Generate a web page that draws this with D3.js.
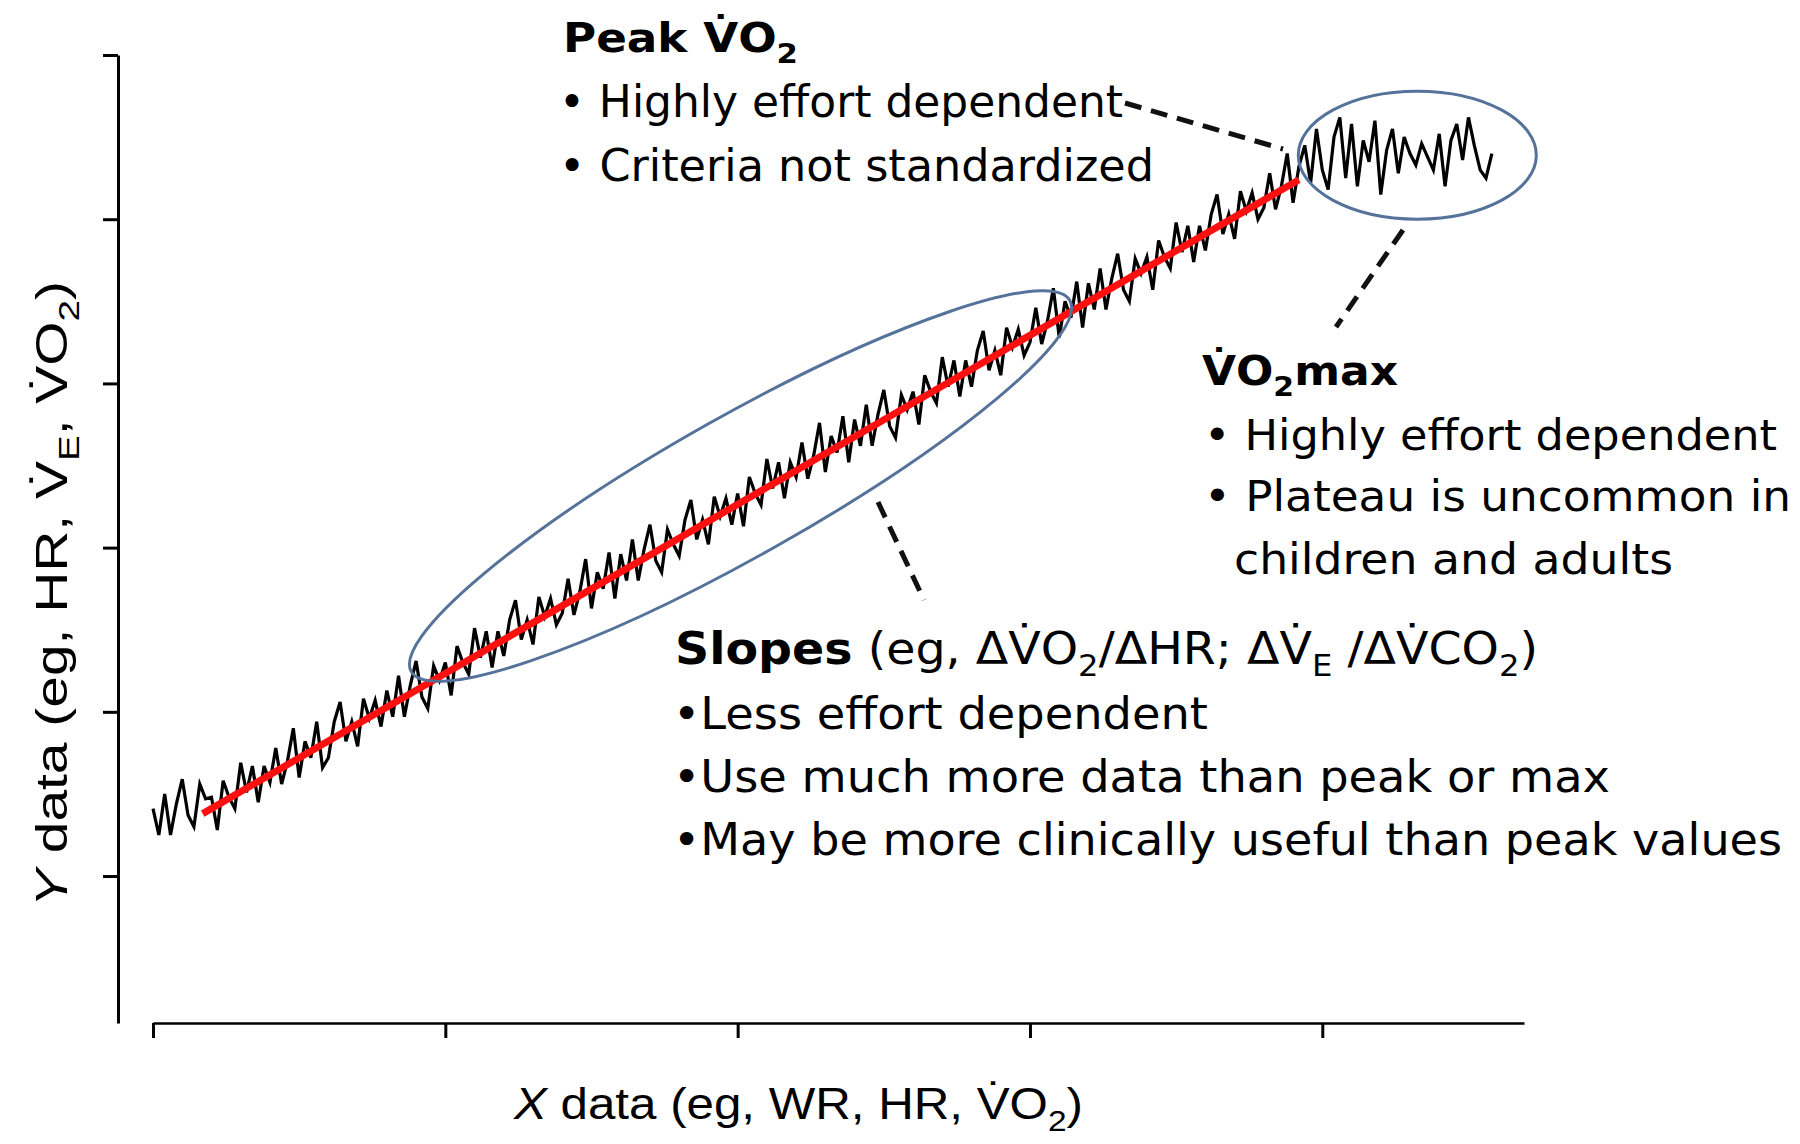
<!DOCTYPE html>
<html><head><meta charset="utf-8">
<script src="https://cdn.jsdelivr.net/npm/d3@7"></script>
<style>body{margin:0;background:#fff;} svg{display:block}</style>
</head><body>
<svg id="chart" width="1800" height="1144"></svg>
<script>
// ---------------- data ----------------
const xTicks = [0, 1, 2, 3, 4];
const yTicks = [1, 2, 3, 4, 5, 6];
const traceStart = 0;
const traceStep = 0.02;
const traceValues = [
  1.41,1.25,1.50,1.25,1.44,1.59,1.37,1.30,1.56,1.47,
  1.48,1.28,1.58,1.48,1.41,1.69,1.51,1.67,1.45,1.67,
  1.57,1.78,1.56,1.70,1.90,1.60,1.82,1.72,1.94,1.66,
  1.72,1.94,2.06,1.82,1.94,1.79,2.08,1.96,2.07,1.91,
  2.13,1.97,2.22,1.97,2.16,2.31,2.09,2.02,2.28,2.19,
  2.30,2.10,2.40,2.30,2.23,2.51,2.33,2.49,2.27,2.49,
  2.34,2.56,2.68,2.44,2.56,2.41,2.70,2.58,2.69,2.53,
  2.60,2.81,2.59,2.73,2.93,2.63,2.85,2.75,2.97,2.69,
  2.96,2.80,3.05,2.80,2.99,3.14,2.92,2.85,3.11,3.02,
  2.95,3.17,3.29,3.05,3.17,3.02,3.31,3.19,3.30,3.14,
  3.33,3.13,3.43,3.33,3.26,3.54,3.36,3.52,3.30,3.52,
  3.43,3.64,3.42,3.56,3.76,3.46,3.68,3.58,3.80,3.52,
  3.78,3.62,3.87,3.62,3.81,3.96,3.74,3.67,3.93,3.84,
  3.95,3.75,4.05,3.95,3.88,4.16,3.98,4.14,3.92,4.14,
  3.98,4.20,4.32,4.08,4.20,4.05,4.34,4.22,4.33,4.17,
  4.25,4.46,4.24,4.38,4.58,4.28,4.50,4.40,4.62,4.34,
  4.61,4.45,4.70,4.45,4.64,4.79,4.57,4.50,4.76,4.67,
  4.77,4.57,4.87,4.77,4.70,4.98,4.80,4.96,4.74,4.96,
  4.81,5.03,5.15,4.91,5.03,4.88,5.17,5.05,5.16,5.00,
  5.07,5.28,5.06,5.20,5.40,5.10,5.32,
  5.45,5.22,5.55,5.30,5.18,5.50,5.62,5.25,5.58,5.20,
  5.48,5.35,5.60,5.15,5.42,5.55,5.28,5.50,5.40,5.33,
  5.46,5.38,5.30,5.52,5.20,5.48,5.58,5.36,5.62,5.45,
  5.30,5.25,5.40
];
const fitX = [0.17, 3.92];
const fitY = [1.38, 5.24];
const regionNames = ["slopes", "peak"];
const regionCX = [2.01, 4.325];
const regionCY = [3.375, 5.39];

// ---------------- layout ----------------
const svg = d3.select("#chart");
const x = d3.scaleLinear().domain([0, 4.69]).range([153, 1524]);
const y = d3.scaleLinear().domain([0.105, 6]).range([1023, 55]);
const AXIS_X = 118, AXIS_Y = 1023;

// axes
const gy = svg.append("g").attr("transform", `translate(${AXIS_X},0)`)
  .call(d3.axisLeft(y).tickValues(yTicks).tickFormat("").tickSize(15).tickSizeOuter(0));
const gx = svg.append("g").attr("transform", `translate(0,${AXIS_Y})`)
  .call(d3.axisBottom(x).tickValues(xTicks).tickFormat("").tickSize(15).tickSizeOuter(0));
gy.select(".domain").attr("stroke", "#000").attr("stroke-width", 3);
gx.select(".domain").attr("stroke", "#000").attr("stroke-width", 2.6);
[gy, gx].forEach(g => g.selectAll(".tick line").attr("stroke", "#000").attr("stroke-width", 3));

// noisy trace
const line = d3.line()
  .x((d, i) => x(traceStart + i * traceStep))
  .y(d => y(d));
svg.append("path").datum(traceValues)
  .attr("d", line).attr("fill", "none")
  .attr("stroke", "#000").attr("stroke-width", 3.2).attr("stroke-linejoin", "miter");

// fitted red line
const fit = fitX.map((v, i) => [v, fitY[i]]);
svg.append("path").datum(fit)
  .attr("d", d3.line().x(d => x(d[0])).y(d => y(d[1])))
  .attr("stroke", "#ff1010").attr("stroke-width", 7).attr("fill", "none");

// ellipses
const ellipseStyle = { slopes: { rx: 378, ry: 70, rot: -29.4 }, peak: { rx: 119, ry: 64, rot: 0 } };
regionNames.forEach((n, i) => {
  const s = ellipseStyle[n];
  svg.append("ellipse")
    .attr("transform", `translate(${x(regionCX[i])},${y(regionCY[i])}) rotate(${s.rot})`)
    .attr("rx", s.rx).attr("ry", s.ry)
    .attr("fill", "none").attr("stroke", "#55729a").attr("stroke-width", 3);
});

// dashed leader lines
const leaders = [
  [1125, 103, 1283, 149],
  [1403, 230, 1336, 327],
  [878, 502, 924, 600]
];
leaders.forEach(l => svg.append("line")
  .attr("x1", l[0]).attr("y1", l[1]).attr("x2", l[2]).attr("y2", l[3])
  .attr("stroke", "#111").attr("stroke-width", 5).attr("stroke-dasharray", "17,10"));

// rich text helper
const Vd = "V\u0307";
function rich(segs, o) {
  const t = svg.append("text").attr("x", o.x).attr("y", o.y)
    .attr("font-size", o.size).attr("font-family", o.family).attr("fill", "#000");
  if (o.anchor) t.attr("text-anchor", o.anchor);
  if (o.transform) t.attr("transform", o.transform);
  let shift = 0;
  segs.forEach(s => {
    const seg = typeof s === "string" ? { t: s } : s;
    const target = seg.sub ? o.size * 0.28 : 0;
    const ts = t.append("tspan").text(seg.t);
    if (target - shift !== 0) ts.attr("dy", target - shift);
    shift = target;
    if (seg.sub) ts.attr("font-size", o.size * 0.68);
    if (seg.bold || o.bold) ts.attr("font-weight", "bold");
    if (seg.italic) ts.attr("font-style", "italic");
  });
  if (o.len) t.attr("textLength", o.len).attr("lengthAdjust", "spacingAndGlyphs");
  return t;
}
const ANN = "'DejaVu Sans', Verdana, sans-serif";
const AX = "'Liberation Sans', Arial, sans-serif";

// Peak VO2 block
rich(["Peak " + Vd + "O", { t: "2", sub: true }], { x: 563, y: 52, size: 40, family: ANN, bold: true, len: 235 });
rich(["• Highly effort dependent"], { x: 559, y: 117, size: 44, family: ANN, len: 564 });
rich(["• Criteria not standardized"], { x: 559, y: 181, size: 44, family: ANN, len: 595 });

// VO2max block
rich([Vd + "O", { t: "2", sub: true }, "max"], { x: 1202, y: 385, size: 40, family: ANN, bold: true, len: 196 });
rich(["• Highly effort dependent"], { x: 1204, y: 450, size: 43, family: ANN, len: 573 });
rich(["• Plateau is uncommon in"], { x: 1204, y: 511, size: 43, family: ANN, len: 587 });
rich(["children and adults"], { x: 1234, y: 574, size: 43, family: ANN, len: 439 });

// Slopes block
rich([{ t: "Slopes", bold: true }, " (eg, \u0394" + Vd + "O", { t: "2", sub: true }, "/\u0394HR; \u0394" + Vd, { t: "E", sub: true },
      " /\u0394" + Vd + "CO", { t: "2", sub: true }, ")"],
     { x: 675, y: 664, size: 44, family: ANN, len: 863 });
rich(["•Less effort dependent"], { x: 673, y: 729, size: 45, family: ANN, len: 535 });
rich(["•Use much more data than peak or max"], { x: 673, y: 792, size: 45, family: ANN, len: 937 });
rich(["•May be more clinically useful than peak values"], { x: 673, y: 855, size: 45, family: ANN, len: 1109 });

// axis titles
rich([{ t: "X", italic: true }, " data (eg, WR, HR, " + Vd + "O", { t: "2", sub: true }, ")"],
     { x: 514, y: 1119, size: 44, family: AX, len: 569 });
rich([{ t: "Y", italic: true }, " data (eg, HR, " + Vd, { t: "E", sub: true }, ", " + Vd + "O", { t: "2", sub: true }, ")"],
     { x: 0, y: 0, size: 44, family: AX, anchor: "middle", len: 626, transform: "translate(67,594) rotate(-90)" });
</script>
</body></html>
